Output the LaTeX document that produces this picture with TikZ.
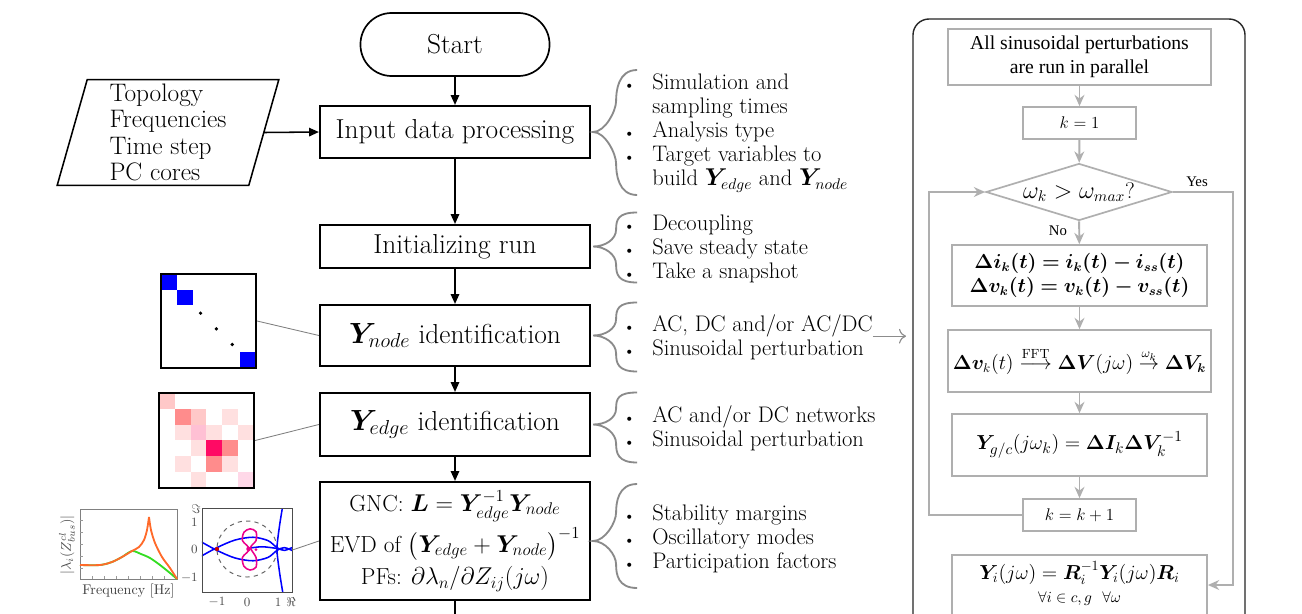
\documentclass[tikz,border=0pt]{standalone}
\usepackage{amsmath,amssymb,bm}
\usepackage{fontspec}
\newfontfamily\tnr{Liberation Serif}
\usetikzlibrary{shapes.geometric,arrows.meta,calc}
\definecolor{gline}{HTML}{AFAFAF}
\definecolor{brcol}{HTML}{8A8A8A}
\definecolor{pk1}{HTML}{FFC8C8}
\definecolor{pk2}{HTML}{FF8C8C}
\definecolor{pk3}{HTML}{FFE0E0}
\definecolor{pk4}{HTML}{FFC0D4}
\definecolor{pk5}{HTML}{FF0A64}
\definecolor{pk6}{HTML}{FFD8E8}
\definecolor{org}{HTML}{FF6A2A}
\definecolor{grn}{HTML}{33DD22}
\newcommand\bul{{\fontsize{10}{10}\selectfont\textbullet}}
\newcommand\gbrace[3]{\draw[brc] ($(#1.east)+(46,-#2)$) .. controls +(-19,0) and +(0,-10) .. ($(#1.east)+(25,{-#2/2})$) .. controls +(0,10) and +(12,0) .. ($(#1.east)+(2,0)$) .. controls +(12,0) and +(0,-10) .. ($(#1.east)+(25,{#3/2})$) .. controls +(0,10) and +(-19,0) .. ($(#1.east)+(46,#3)$);}
\begin{document}
\begin{tikzpicture}[x=0.025cm,y=-0.025cm,
 proc/.style={draw,line width=1.5pt,minimum width=6.75cm,align=center,font=\fontsize{19.5}{23}\selectfont},
 arr/.style={-{Triangle[length=7pt,width=6pt]},line width=1.1pt},
 lst/.style={anchor=west,inner sep=0,font=\fontsize{16}{17}\selectfont},
 brc/.style={brcol,line width=1.3pt},
 gbox/.style={draw=gline,line width=1.2pt,align=center,font=\fontsize{14}{17}\selectfont},
 garr/.style={gline,line width=1.4pt,-{Stealth[length=8pt,width=7pt]}},
 thinl/.style={gray,line width=0.6pt},
 tck/.style={black!70,inner sep=0,font=\fontsize{9}{10}\selectfont}]
\useasboundingbox (0,0) rectangle (1302,613);
\clip (0,0) rectangle (1302,613);
\fill[white] (0,0) rectangle (1302,613);
% main column
\node[draw,line width=1.2pt,rounded corners=0.78cm,minimum width=4.725cm,minimum height=1.575cm,font=\fontsize{19.5}{23}\selectfont] (start) at (455,44.5) {Start};
\node[proc,minimum height=1.3cm] (inproc) at (455,132) {Input data processing};
\node[proc,minimum height=1.075cm] (init) at (455,246.5) {Initializing run};
\node[proc,minimum height=1.525cm] (ynode) at (455,335.5) {$\bm{Y}_{node}$ identification};
\node[proc,minimum height=1.575cm] (yedge) at (455,424.5) {$\bm{Y}_{edge}$ identification};
\node[proc,minimum height=2.95cm,font=\fontsize{16.5}{20}\selectfont] (gnc) at (455,541) {GNC: $\bm{L}=\bm{Y}_{edge}^{-1}\bm{Y}_{node}$\\[3pt]EVD of $\big(\bm{Y}_{edge}+\bm{Y}_{node}\big)^{-1}$\\[3pt]PFs: $\partial\lambda_n/\partial Z_{ij}(j\omega)$};
\coordinate (gout) at (455,625);
\draw[arr] (start)--(inproc); \draw[arr] (inproc)--(init); \draw[arr] (init)--(ynode); \draw[arr] (ynode)--(yedge); \draw[arr] (yedge)--(gnc);
\draw[line width=1.1pt] (gnc)--(gout);
% input data
\node[inner sep=0,minimum width=4.775cm,minimum height=2.625cm,align=left,font=\fontsize{18}{18.7}\selectfont] (inp) at (168,132.5) {Topology\\Frequencies\\Time step\\PC cores};
\draw[line width=1.1pt] ($(inp.north west)+(15,0)$)--($(inp.north east)+(15,0)$)--($(inp.south east)+(-15,0)$)--($(inp.south west)+(-15,0)$)--cycle;
\draw[arr] (inp.east)--(inproc.west);
% lists
\node[lst] (l1) at (623.5,133) {\begin{tabular}{@{}c@{\hspace{12.5pt}}l@{}}\bul&Simulation and\\&sampling times\\\bul&Analysis type\\\bul&Target variables to\\&build $\bm{Y}_{edge}$ and $\bm{Y}_{node}$\end{tabular}};
\node[lst] (l2) at (623.5,250) {\begin{tabular}{@{}c@{\hspace{12.5pt}}l@{}}\bul&Decoupling\\\bul&Save steady state\\\bul&Take a snapshot\end{tabular}};
\node[lst] (l3) at (623.5,339) {\begin{tabular}{@{}c@{\hspace{12.5pt}}l@{}}\bul&AC, DC and/or AC/DC\\\bul&Sinusoidal perturbation\end{tabular}};
\node[lst] (l4) at (623.5,430) {\begin{tabular}{@{}c@{\hspace{12.5pt}}l@{}}\bul&AC and/or DC networks\\\bul&Sinusoidal perturbation\end{tabular}};
\node[lst] (l5) at (623.5,540) {\begin{tabular}{@{}c@{\hspace{12.5pt}}l@{}}\bul&Stability margins\\\bul&Oscillatory modes\\\bul&Participation factors\end{tabular}};
\gbrace{inproc}{62}{63} \gbrace{init}{34}{36} \gbrace{ynode}{33}{36} \gbrace{yedge}{32}{38} \gbrace{gnc}{57}{47}
\coordinate (pin) at (906,0);
\draw[gline!80!black,line width=0.8pt,-{To[length=5pt]}] ([yshift=2pt]l3.east)--([yshift=2pt]l3.east-|pin);
% matrices
\foreach \r/\c in {0/0,1/1,5/5} \fill[blue] ({161+15.83*\c},{274+15.67*\r}) rectangle +(15.83,15.67);
\foreach \r in {2,3,4} \fill ({161+15.83*\r+7.9},{274+15.67*\r+7.8}) circle (1.3pt);
\node[draw,line width=1.5pt,minimum width=2.375cm,minimum height=2.35cm,inner sep=0] (mnode) at (208.5,321) {};
\foreach \r/\c/\col in {0/0/pk1,1/1/pk2,1/2/pk1,1/4/pk3,2/1/pk3,2/2/pk4,2/3/pk3,2/5/pk3,3/2/pk3,3/3/pk5,3/4/pk2,4/1/pk3,4/3/pk2,4/4/pk3,5/2/pk3,5/5/pk6} \fill[\col] ({159+15.83*\c},{393+15.83*\r}) rectangle +(15.83,15.83);
\node[draw,line width=1.5pt,minimum width=2.375cm,minimum height=2.375cm,inner sep=0] (medge) at (206.5,440.5) {};
\draw[thinl] (mnode.east)--(ynode.west); \draw[thinl] (medge.east)--(yedge.west);
% frequency plot
\node[draw=black!50,line width=0.5pt,minimum width=2.425cm,minimum height=1.75cm,inner sep=0] (frq) at (128.5,544) {};
\foreach \t in {92,104,116,128,140,152,164} \draw[black!40,line width=0.4pt] (\t,579)--(\t,576);
\foreach \t in {520,532,544,556,568} \draw[black!40,line width=0.4pt] (80,\t)--(83,\t);
\draw[grn,line width=1.3pt] plot[smooth] coordinates {(80,565)(100,565)(112,562)(122,557)(132,551)(141,554)(150,558)(160,565)(170,573)(177,579)};
\draw[org,line width=1.3pt] plot[smooth] coordinates {(80,565)(100,565)(112,562)(122,557)(132,551)(139,547)(144,540)(147,530)(149,517)};
\draw[org,line width=1.3pt] plot[smooth] coordinates {(149,517)(151,530)(155,543)(162,557)(170,568)(177,579)};
\node[rotate=90,black!70,font=\fontsize{10}{11}\selectfont] (ylab) at (67,545) {$|\lambda_i(Z^{cl}_{bus})|$};
\node[black!75,font=\fontsize{10}{12}\selectfont] (xlab) at (128.5,591) {Frequency [Hz]};
% nyquist plot
\begin{scope}[shift={(247,549)},x=0.75cm,y=0.7cm]
\clip (-1.5,-1.54) rectangle (1.5,1.46);
\draw[dashed,black!60,line width=0.7pt] (0,0) circle[radius=1];
\draw[blue,line width=1.1pt] plot[smooth] coordinates {(-1.6,-0.3)(-1,0.05)(-0.4,0.32)(0.2,0.42)(0.7,0.3)(1,0.05)(1.25,-0.05)(1.6,0.1)};
\draw[blue,line width=1.1pt] plot[smooth] coordinates {(-1.6,0.3)(-1,-0.05)(-0.4,-0.32)(0.2,-0.42)(0.7,-0.3)(1,-0.05)(1.25,0.05)(1.6,-0.1)};
\draw[blue,line width=1.1pt] plot[smooth] coordinates {(1.2,1.6)(1.08,0.8)(1.0,0)(1.08,-0.8)(1.2,-1.6)};
\draw[blue,line width=1.1pt] plot[smooth] coordinates {(0,0.02)(0.5,0.08)(1,0.02)};
\draw[magenta,line width=1.1pt] plot[smooth cycle] coordinates {(0.08,0)(-0.15,0.3)(-0.1,0.6)(0.1,0.72)(0.3,0.62)(0.3,0.3)(0.12,0.05)(0.3,-0.3)(0.3,-0.65)(0.1,-0.75)(-0.1,-0.62)(-0.15,-0.3)};
\fill[magenta] (0.05,0) circle (1.6pt) (0.3,-0.02) circle (1.1pt);
\fill[red!80!black] (-1,0) circle (1.5pt);
\end{scope}
\node[draw=black!70,line width=0.5pt,minimum width=2.25cm,minimum height=2.1cm,inner sep=0] (nyq) at (247,550) {};
\foreach \v/\p/\n in {1/522/a,0/549/b,-1/578/c} \node[tck,anchor=east] (ty\n) at (198,\p) {$\v$};
\foreach \v/\p/\n in {-1/217/a,0/247/b,1/278/c} \node[tck] (tx\n) at (\p,602) {$\v$};
\node[tck] (re) at (291,602) {$\Re$}; \node[tck] (im) at (196,509) {$\Im$};
\draw[thinl] (nyq.east)--(gnc.west);
% right panel
\draw[black!85,line width=1pt,rounded corners=0.4cm] (913,640)--(913,19)--(1245,19)--(1245,640);
\node[gbox,font=\tnr\fontsize{14}{17}\selectfont,minimum width=6.575cm,minimum height=1.4cm] (par) at (1079.5,57) {All sinusoidal perturbations\\are run in parallel};
\node[gbox,minimum width=2.825cm,minimum height=0.8cm,font=\fontsize{12}{14}\selectfont] (k1) at (1079.5,123) {$k=1$};
\node[draw=gline,line width=1.2pt,diamond,aspect=3.26,inner sep=0,minimum width=4.65cm,minimum height=1.425cm,font=\fontsize{16}{18}\selectfont] (dia) at (1079,192) {$\omega_k>\omega_{max}$?};
\node[gbox,minimum width=6.375cm,minimum height=1.525cm,font=\fontsize{13.5}{17.5}\selectfont] (dv) at (1079.5,275.5) {$\bm{\Delta i_k(t)=i_k(t)-i_{ss}(t)}$\\$\bm{\Delta v_k(t)=v_k(t)-v_{ss}(t)}$};
\node[gbox,minimum width=6.375cm,minimum height=1.55cm,font=\fontsize{13.5}{16}\selectfont] (fft) at (1079.5,361) {$\bm{\Delta v}_k(t)\overset{\mathrm{FFT}}{\longrightarrow}\bm{\Delta V}(j\omega)\overset{\omega_k}{\rightarrow}\bm{\Delta V_k}$};
\node[gbox,minimum width=6.375cm,minimum height=1.55cm,font=\fontsize{15}{17}\selectfont] (ygc) at (1079.5,445) {$\bm{Y}_{g/c}(j\omega_k)=\bm{\Delta I}_k\bm{\Delta V}_k^{-1}$};
\node[gbox,minimum width=2.825cm,minimum height=0.8cm,font=\fontsize{12}{14}\selectfont] (kk) at (1079.5,515) {$k=k+1$};
\node[gbox,anchor=north,minimum width=6.375cm,inner ysep=5pt,text depth=40pt] (yi) at (1079.5,554) {$\bm{Y}_i(j\omega)=\bm{R}_i^{-1}\bm{Y}_i(j\omega)\bm{R}_i$\\{\fontsize{11}{13}\selectfont$\forall i\in c,g\ \ \forall\omega$}};
\node[font=\tnr\fontsize{10.5}{12}\selectfont] (yes) at (1197,182) {Yes};
\node[font=\tnr\fontsize{10.5}{12}\selectfont] (no) at (1058,231) {No};
\draw[garr] (par)--(k1); \draw[garr] (k1)--(dia); \draw[garr] (dia)--(dv); \draw[garr] (dv)--(fft); \draw[garr] (fft)--(ygc); \draw[garr] (ygc)--(kk);
\draw[garr] (kk.west)--++(-93,0)|-(dia.west);
\coordinate (yin) at (yi.east|-0,585);
\draw[garr] (dia.east)--++(60,0)|-(yin);
\end{tikzpicture}
\end{document}
